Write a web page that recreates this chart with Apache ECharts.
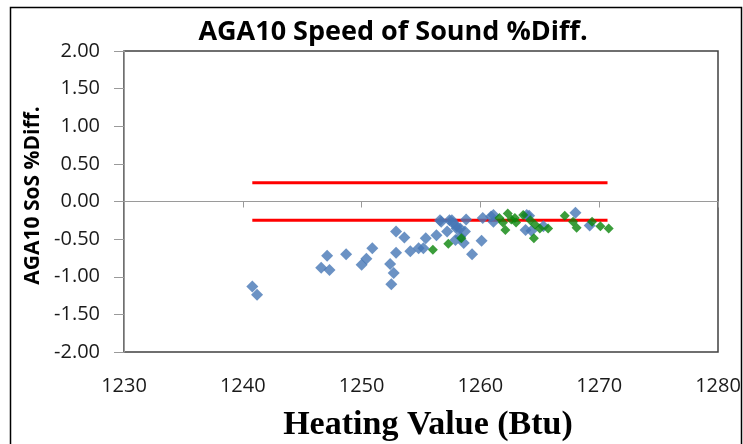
<!DOCTYPE html>
<html>
<head>
<meta charset="utf-8">
<script src="https://cdn.jsdelivr.net/npm/echarts@6/dist/echarts.min.js"></script>
<style>
html,body{margin:0;padding:0;background:#fff;}
#chart{width:743px;height:444px;}
</style>
</head>
<body>
<div id="chart"></div>
<script>
// ---- Data ----
const titleText = "AGA10 Speed of Sound %Diff.";
const xAxisTitle = "Heating Value (Btu)";
const yAxisTitle = "AGA10 SoS %Diff.";

const xTicks = [1230, 1240, 1250, 1260, 1270, 1280];
const yTicks = [-2.0, -1.5, -1.0, -0.5, 0.0, 0.5, 1.0, 1.5, 2.0];

// Blue diamonds: [Heating Value, SoS %Diff]
const blueSeries = [
  [1240.8,-1.13],[1241.2,-1.24],
  [1246.6,-0.88],[1247.1,-0.72],[1247.3,-0.91],
  [1248.7,-0.70],
  [1250.0,-0.84],[1250.4,-0.76],[1250.9,-0.62],
  [1252.4,-0.83],[1252.5,-1.10],[1252.7,-0.95],[1252.9,-0.68],[1252.9,-0.40],
  [1253.6,-0.48],[1254.1,-0.66],[1254.8,-0.62],[1255.2,-0.62],[1255.4,-0.49],
  [1256.3,-0.45],[1256.6,-0.25],[1256.7,-0.27],
  [1257.2,-0.40],[1257.4,-0.25],[1257.6,-0.25],[1257.7,-0.29],[1257.9,-0.51],
  [1258.0,-0.36],[1258.0,-0.33],[1258.3,-0.47],[1258.3,-0.36],[1258.6,-0.55],
  [1258.7,-0.40],[1258.8,-0.24],
  [1259.3,-0.70],[1260.1,-0.52],[1260.2,-0.22],[1260.9,-0.20],[1261.1,-0.27],[1261.1,-0.18],
  [1263.8,-0.38],[1263.9,-0.18],[1264.1,-0.19],[1264.3,-0.39],[1265.3,-0.33],
  [1268.0,-0.15],[1269.2,-0.32]
];

// Green diamonds
const greenSeries = [
  [1256.0,-0.64],[1257.3,-0.56],[1258.4,-0.49],[1261.6,-0.22],[1261.9,-0.28],
  [1262.1,-0.38],[1262.3,-0.16],[1262.6,-0.24],[1262.9,-0.22],[1263.0,-0.28],
  [1263.6,-0.18],[1264.2,-0.25],[1264.5,-0.49],[1264.6,-0.31],[1265.0,-0.36],
  [1265.7,-0.36],[1267.1,-0.19],[1267.8,-0.27],[1268.1,-0.35],[1269.4,-0.27],
  [1270.1,-0.33],[1270.8,-0.36]
];

// Red limit lines (+/-0.25 %)
const limitX = [1240.8, 1270.7];
const upperLimit = 0.25;
const lowerLimit = -0.25;

// ---- Chart ----
const chart = echarts.init(document.getElementById('chart'));
const upperLine = limitX.map(x => [x, upperLimit]);
const lowerLine = limitX.map(x => [x, lowerLimit]);

const option = {
  animation: false,
  backgroundColor: '#ffffff',
  title: {
    text: titleText,
    left: 388, top: 14, textAlign: 'center',
    textStyle: { fontFamily: 'Open Sans', fontWeight: 'bold', fontSize: 27, color: '#000' }
  },
  graphic: [{
    type: 'rect', silent: true, z: 0,
    shape: { x: 10.5, y: 7.5, width: 731, height: 460 },
    style: { fill: 'none', stroke: '#000', lineWidth: 1.5 }
  }],
  grid: {
    left: 124, top: 51, right: 25, bottom: 92,
    outerBoundsMode: 'none', containLabel: false,
    show: true, borderColor: '#404040', borderWidth: 1.5, backgroundColor: 'transparent'
  },
  xAxis: [{
    type: 'value', min: 1230, max: 1280, interval: 10,
    position: 'bottom',
    axisLine: { show: false, onZero: false },
    axisTick: { show: false },
    splitLine: { show: false },
    axisLabel: {
      margin: 24, fontFamily: 'Open Sans', fontSize: 20, color: '#1a1a1a',
      customValues: xTicks,
      formatter: v => String(v)
    },
    name: xAxisTitle, nameLocation: 'middle', nameGap: 56,
    nameTextStyle: { fontFamily: 'Liberation Serif', fontWeight: 'bold', fontSize: 34, color: '#000', padding: [0, 0, 0, 14] }
  }, {
    type: 'value', min: 1230, max: 1280, interval: 10,
    position: 'bottom',
    axisLine: { show: true, onZero: true, lineStyle: { color: '#9a9a9a', width: 1 } },
    axisTick: { show: true, length: 6, inside: false, lineStyle: { color: '#9a9a9a' } },
    axisLabel: { show: false },
    splitLine: { show: false }
  }],
  yAxis: {
    type: 'value', min: -2, max: 2, interval: 0.5,
    axisLine: { show: true, onZero: false, lineStyle: { color: '#9a9a9a', width: 1 } },
    axisTick: { show: true, length: 10, lineStyle: { color: '#9a9a9a' } },
    splitLine: { show: false },
    axisLabel: {
      margin: 24, fontFamily: 'Open Sans', fontSize: 20, color: '#1a1a1a',
      customValues: yTicks,
      formatter: v => v.toFixed(2)
    },
    name: yAxisTitle, nameLocation: 'middle', nameGap: 80, nameRotate: 90,
    nameTextStyle: { fontFamily: 'Open Sans', fontWeight: 'bold', fontSize: 21, color: '#000', padding: [0, 0, 0, 12] }
  },
  series: [{
    type: 'line', data: upperLine, xAxisIndex: 0, showSymbol: false, symbol: 'none',
    lineStyle: { color: '#ff0000', width: 3 }, z: 2
  }, {
    type: 'line', data: lowerLine, xAxisIndex: 0, showSymbol: false, symbol: 'none',
    lineStyle: { color: '#ff0000', width: 3 }, z: 2
  }, {
    type: 'scatter', data: blueSeries, xAxisIndex: 0, symbol: 'diamond', symbolSize: 12,
    itemStyle: { color: '#4677b5' }, z: 3
  }, {
    type: 'scatter', data: greenSeries, xAxisIndex: 0, symbol: 'diamond', symbolSize: 10,
    itemStyle: { color: '#0a850a' }, z: 4
  }]
};
chart.setOption(option);
</script>
</body>
</html>
